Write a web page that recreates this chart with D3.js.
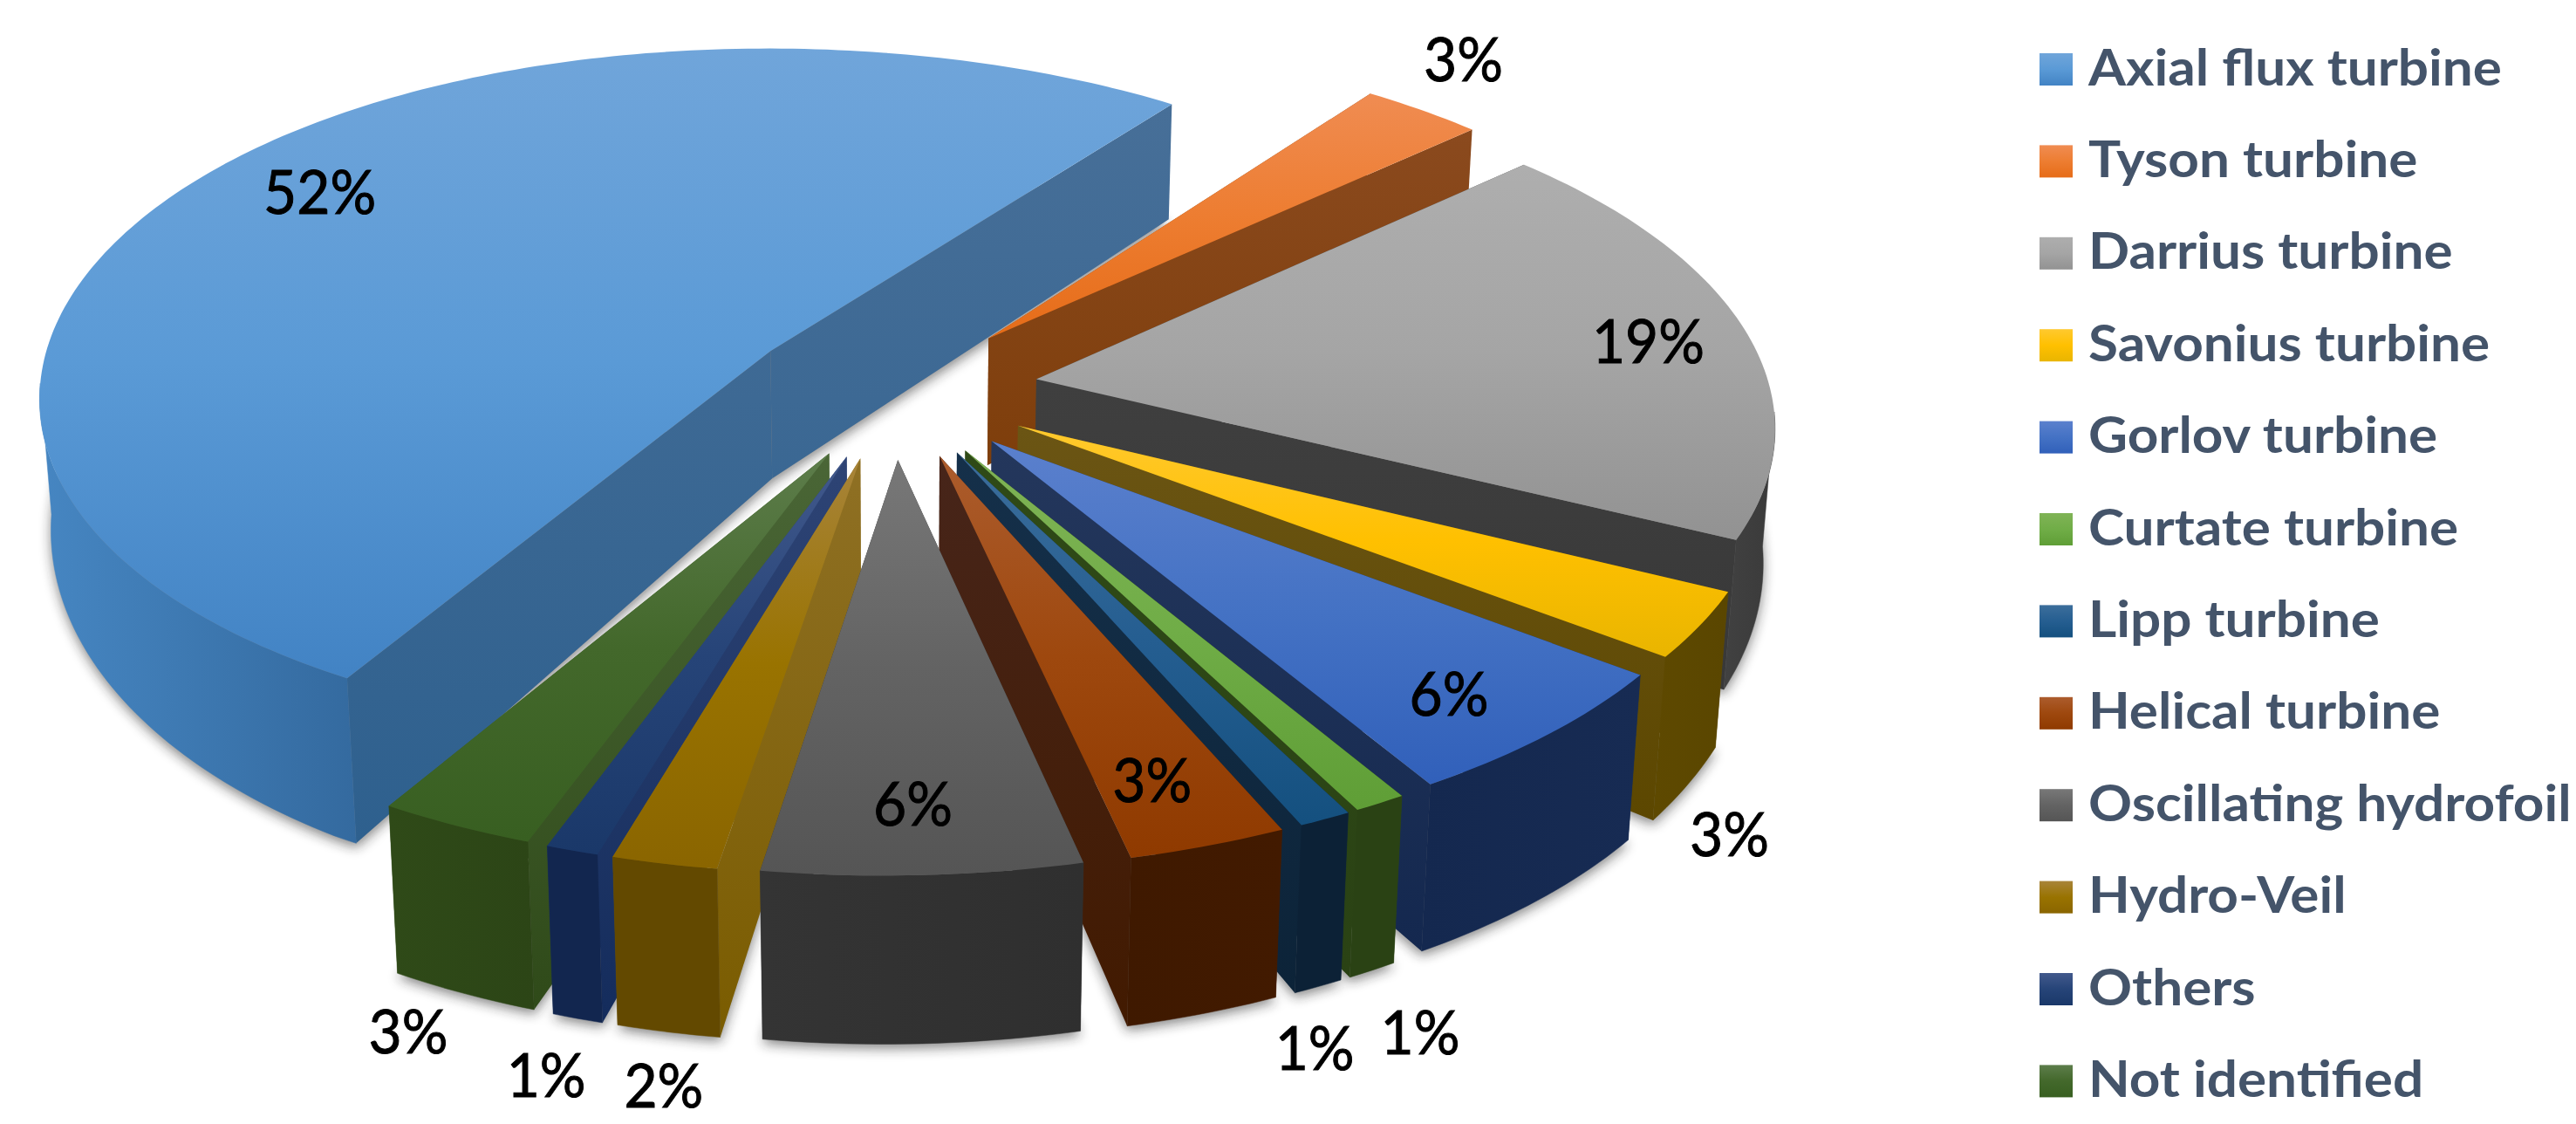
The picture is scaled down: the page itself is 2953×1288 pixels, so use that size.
<!DOCTYPE html>
<html><head><meta charset="utf-8">
<script src="https://cdn.jsdelivr.net/npm/d3@7/dist/d3.min.js"></script>
<style>html,body{margin:0;background:#fff}svg{display:block}</style>
</head><body><svg id="c" width="2953" height="1288"></svg>
<script>
// ---- data ----
const categories = ["Axial flux turbine","Tyson turbine","Darrius turbine","Savonius turbine","Gorlov turbine","Curtate turbine","Lipp turbine","Helical turbine","Oscillating hydrofoil","Hydro-Veil","Others","Not identified"];
const values = [52,3,19,3,6,1,1,3,6,2,1,3];

// ---- styles ----
const topColors = [["#70a5da","#5a9ad6","#4283c4"],["#f08c52","#ed7d31","#e66c18"],["#aeaeae","#a5a5a5","#929292"],["#ffc92f","#ffc000","#e9b500"],["#5b80cd","#4472c4","#3160ba"],["#80b356","#70ad47","#5f9e36"],["#3c6e9b","#255e91","#14507f"],["#ac5c2d","#9e480e","#8f3a00"],["#787878","#636363","#555555"],["#a8843a","#997300","#8a6500"],["#42598c","#264478","#1a3869"],["#5d7d4b","#43682b","#385f21"]];
const radialColors = [["#476f98","#2e608e"],["#8c4b20","#7e3e0b"],["#444444","#383838"],["#6b5514","#5c4700"],["#24375c","#14284f"],["#2f4a17","#2a4214"],["#15304a","#0c2338"],["#47251a","#421a00"],["#333333","#333333"],["#8f7024","#7a5c00"],["#2e4475","#142c5c"],["#4a6636","#2f4a19"]];
const arcColors = [["#4686c2","#346a9f"],["#7e3e0b","#7e3e0b"],["#414141","#3a3a3a"],["#5e4900","#5a4600"],["#14284f","#172b53"],["#2a4214","#2a4214"],["#0c2136","#0c2136"],["#3f1900","#421a00"],["#343434","#2f2f2f"],["#634900","#634900"],["#12264f","#12264f"],["#2f4a18","#2c4516"]];
const drawOrder = [0,1,2,3,4,5,6,7,11,10,9,8];
const labelRadius = [1.0335,1.3857,1.058,1.488,1.050,1.6266,1.616,1.0407,1.045,1.636,1.642,1.607];
const labelAngle = [306,39.4,82.4,138.3,139.1,158.75,163.1,162.5,178.6,188.8,193.4,199.6];
const legendTextColor = "#44546a";

// ---- projection of the tilted pie plane ----
const P = {x0:1022, y0:445.5, a:841, b:398, t:0.12, lean:1035, warp:13};
const explode = 0.2, radius = 1;
const rad = d => d*Math.PI/180;
const flat = (X,Y) => { const w = 1/(1-P.t*Y); return [P.x0+P.a*X*w, P.y0+P.b*Y*w]; };
const project = (X,Y) => { const [x,y] = flat(X,Y); return [x-P.warp*Y*Y*(1-0.5*X), y]; };
const wallHeight = d3.scaleLinear().domain([120,402,768,995]).range([132,146,189,193]);
const drop = ([x,y]) => { const h = wallHeight(y); return [x+(P.lean-x)*0.0165*h/190, y+h]; };

const pie = d3.pie().sort(null).startAngle(rad(209.8)).endAngle(rad(569.8));
const arcs = pie(values);
const svg = d3.select("#c"), defs = svg.append("defs");
const line = d3.line();

const grad = (id, stops, horizontal) => {
  const g = defs.append("linearGradient").attr("id",id).attr("x1",0).attr("y1",0).attr("x2",horizontal?1:0).attr("y2",horizontal?0:1);
  stops.forEach((c,i)=>g.append("stop").attr("offset",i/(stops.length-1)).attr("stop-color",c));
  return g;
};
defs.append("filter").attr("id","soft").attr("x","-5%").attr("y","-5%").attr("width","110%").attr("height","110%")
  .append("feGaussianBlur").attr("stdDeviation",7);

const geom = arcs.map((d,i)=>{
  const bis = (d.startAngle+d.endAngle)/2;
  const ax = explode*Math.sin(bis), ay = -explode*Math.cos(bis);
  const pt = th => project(ax+radius*Math.sin(th), ay-radius*Math.cos(th));
  const steps = Math.max(4,Math.ceil((d.endAngle-d.startAngle)/rad(1)));
  const angles = d3.range(steps+1).map(k=>d.startAngle+(d.endAngle-d.startAngle)*k/steps);
  return {i,apex:project(ax,ay),pt,angles,d};
});
topColors.forEach((c,i)=>{
  grad("top"+i,c,false);
  grad("arc"+i,arcColors[i],true);
  const g = geom[i];
  const ends = [g.apex,g.pt(g.d.startAngle),g.pt(g.d.endAngle)];
  const ext = d3.extent([...ends,...ends.map(drop)],p=>p[1]);
  grad("rad"+i,radialColors[i],false).attr("gradientUnits","userSpaceOnUse").attr("x1",0).attr("x2",0).attr("y1",ext[0]).attr("y2",ext[1]);
});

// soft shadow below the slices
const shadow = svg.append("g").attr("filter","url(#soft)").attr("opacity",0.55).attr("transform","translate(0,5)");
geom.forEach(g=>{
  const ring = [g.apex,...g.angles.map(g.pt)].map(drop);
  shadow.append("path").attr("d",line(ring)+"Z").attr("fill","#222");
});

const root = svg.append("g");
drawOrder.forEach(i=>{
  const g = geom[i], gr = root.append("g").attr("class","slice");
  // flat radial walls, back one first
  const outer = [g.pt(g.d.startAngle),g.pt(g.d.endAngle)].sort((a,b)=>a[1]-b[1]);
  outer.forEach(o=>{
    gr.append("path").attr("d",line([g.apex,o,drop(o),drop(g.apex)])+"Z").attr("fill",`url(#rad${i})`);
  });
  // curved outer wall (front half only)
  const lo = rad(95), hi = rad(265);
  const vis = g.angles.filter(a=>{const n=((a%(2*Math.PI))+2*Math.PI)%(2*Math.PI);return n>=lo&&n<=hi;});
  if(vis.length>1){
    const tops = vis.map(g.pt), bots = tops.map(drop).reverse();
    gr.append("path").attr("d",line([...tops,...bots])+"Z").attr("fill",`url(#arc${i})`).attr("stroke",`url(#arc${i})`).attr("stroke-width",0.5);
  }
  // top face
  gr.append("path").attr("d",line([g.apex,...g.angles.map(g.pt)])+"Z").attr("fill",`url(#top${i})`);
});

// data labels
const fmt = d3.format(".0%"), total = d3.sum(values);
svg.append("g").selectAll("text").data(values).join("text")
  .each(function(v,i){
    const th = rad(labelAngle[i]);
    const [x,y] = flat(labelRadius[i]*Math.sin(th), -labelRadius[i]*Math.cos(th));
    d3.select(this).attr("transform",`translate(${x},${y+25}) scale(0.94,1)`);
  })
  .attr("text-anchor","middle").attr("font-family","Lato").attr("font-size",70).attr("fill","#000").attr("stroke","#000").attr("stroke-width",1)
  .text(v=>fmt(v/total));

// legend
const legendY = d3.scaleLinear().domain([0,categories.length-1]).range([79.5,79.5+105.4*11]);
const lg = svg.append("g").selectAll("g").data(categories).join("g").attr("transform",(d,i)=>`translate(2338,${legendY(i)})`);
lg.append("rect").attr("x",0).attr("y",-18.5).attr("width",38).attr("height",37).attr("fill",(d,i)=>`url(#top${i})`);
lg.append("text").attr("transform","translate(56,18) scale(1.07,1)").attr("font-family","Lato").attr("font-weight",700).attr("font-size",58).attr("fill",legendTextColor).text(d=>d);
</script></body></html>
